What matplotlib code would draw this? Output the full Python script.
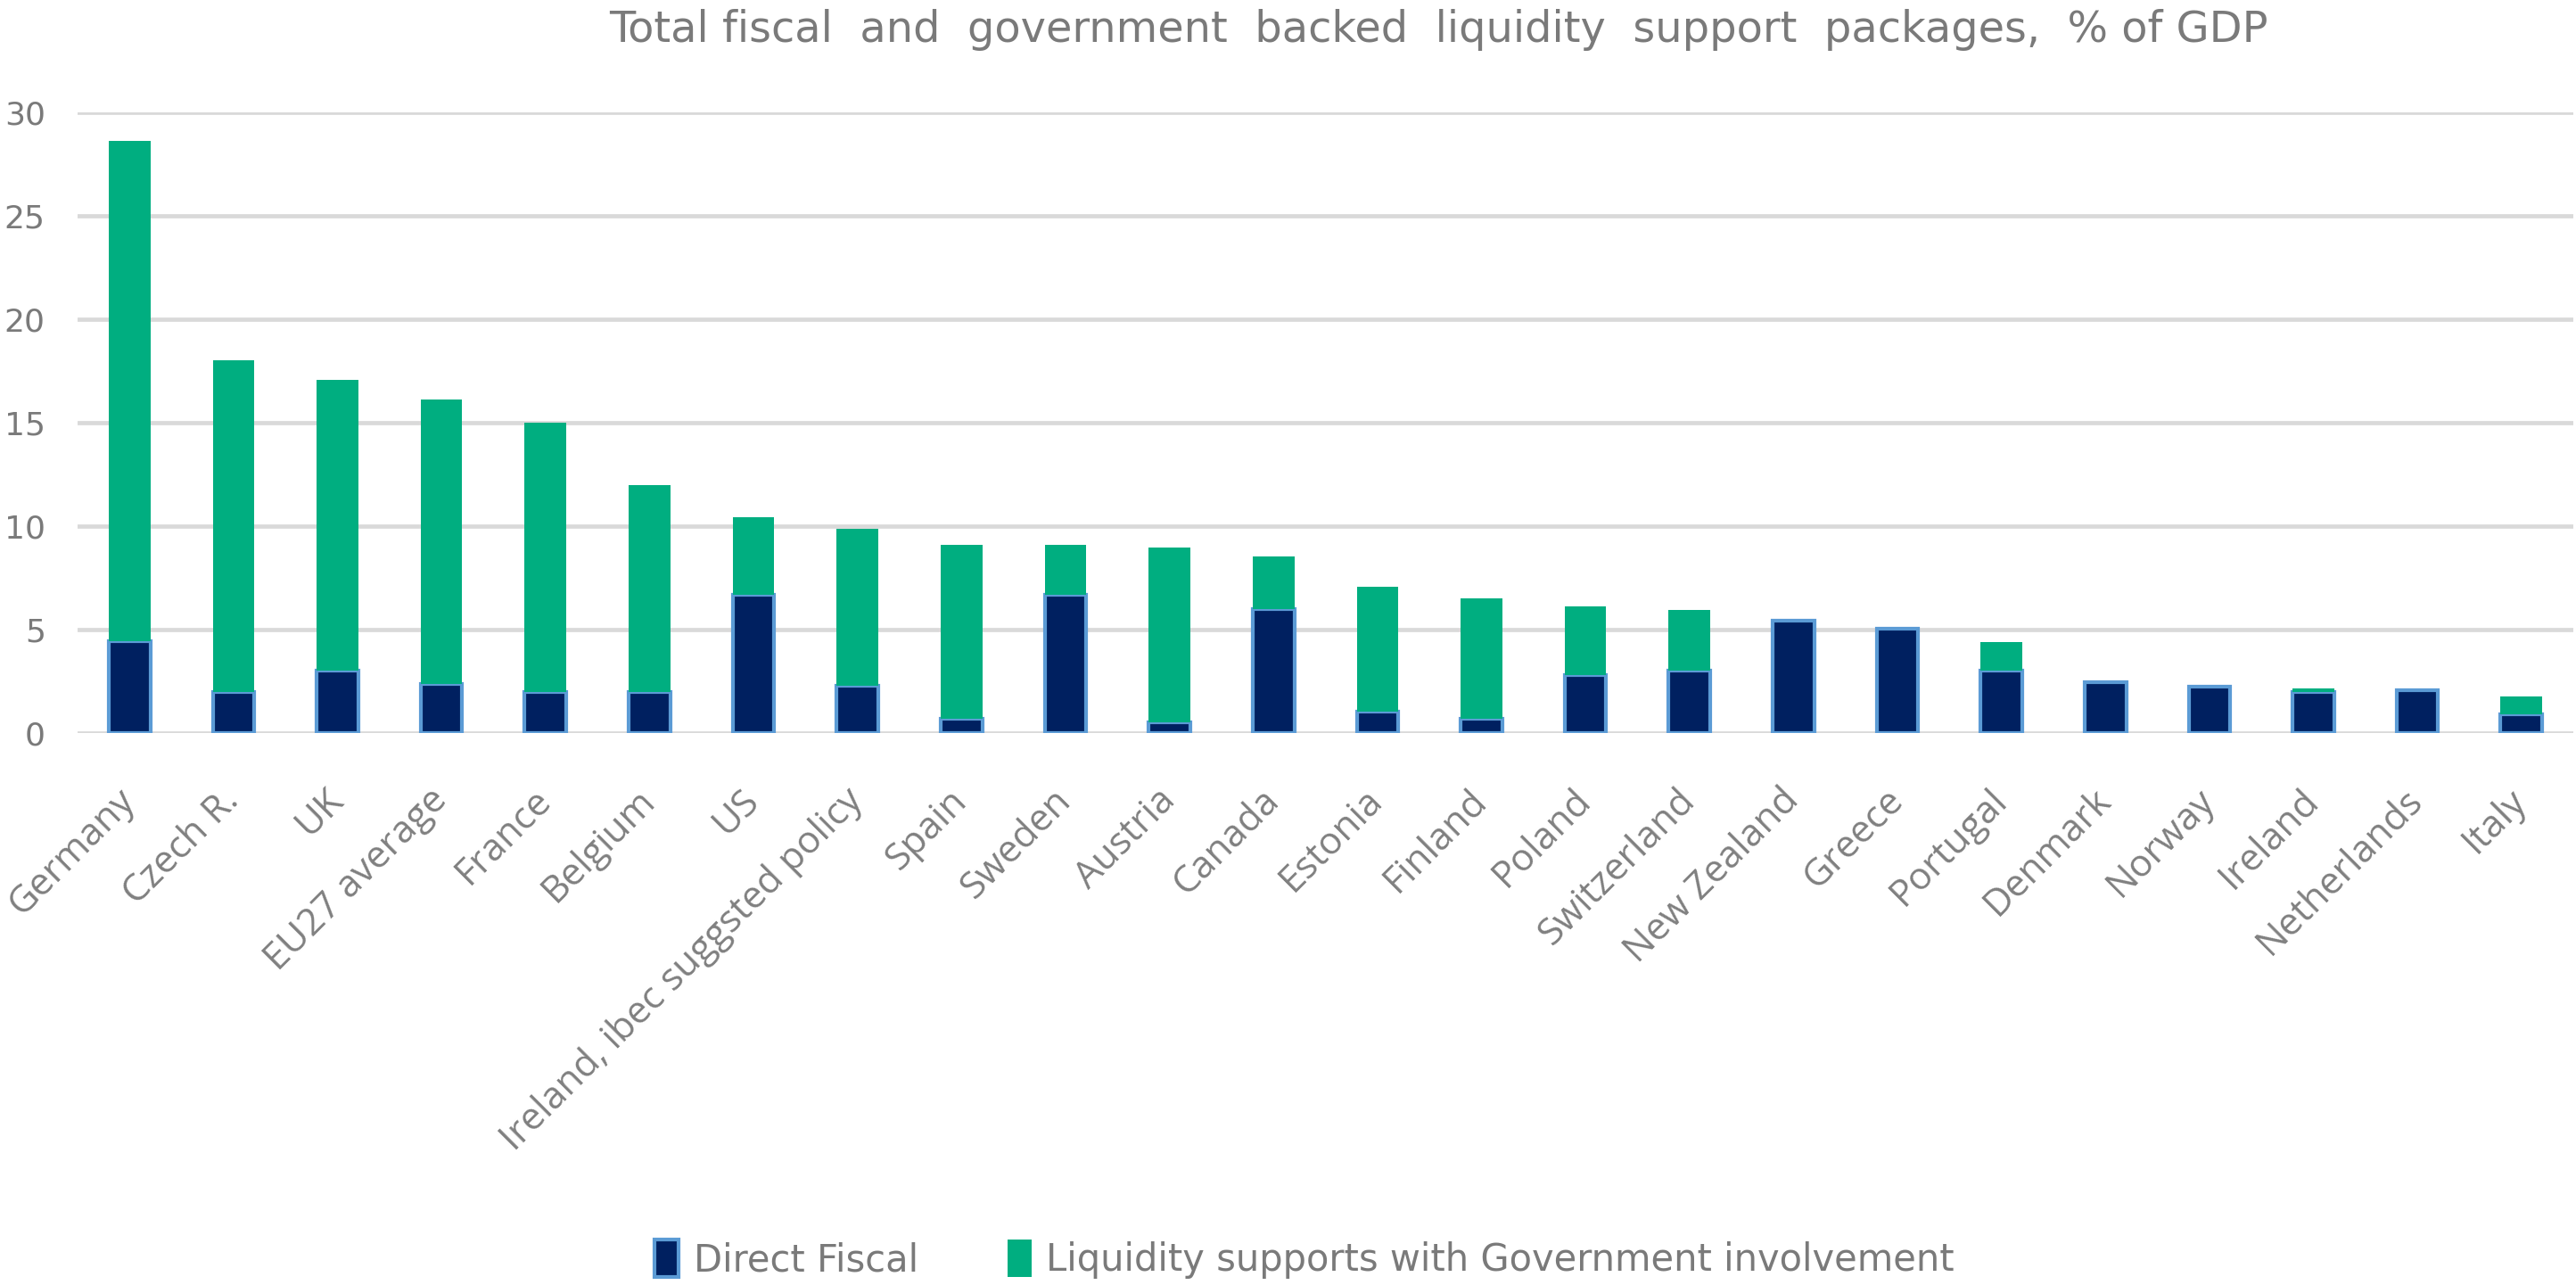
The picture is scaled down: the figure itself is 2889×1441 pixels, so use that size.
import matplotlib
matplotlib.use("Agg")
import matplotlib.pyplot as plt
import numpy as np

countries = ["Germany", "Czech R.", "UK", "EU27 average", "France", "Belgium", "US",
             "Ireland, ibec suggsted policy", "Spain", "Sweden", "Austria", "Canada",
             "Estonia", "Finland", "Poland", "Switzerland", "New Zealand", "Greece",
             "Portugal", "Denmark", "Norway", "Ireland", "Netherlands", "Italy"]
direct_fiscal = [4.45, 2.0, 3.0, 2.35, 2.0, 2.0, 6.7, 2.3, 0.7, 6.7, 0.5, 6.0,
                 1.05, 0.7, 2.8, 3.0, 5.45, 5.05, 3.0, 2.45, 2.25, 2.0, 2.05, 0.9]
liquidity = [24.15, 16.0, 14.05, 13.75, 13.0, 10.0, 3.75, 7.55, 8.4, 2.4, 8.45, 2.55,
             6.0, 5.8, 3.3, 2.95, 0.0, 0.0, 1.4, 0.0, 0.0, 0.15, 0.0, 0.85]
yticks = [0, 5, 10, 15, 20, 25, 30]

navy = "#002060"
edge = "#5B9BD5"
green = "#00AE80"
grey = "#7A7A7A"

fig = plt.figure(figsize=(28.89, 14.41), dpi=100)
ax = fig.add_axes([0.0301, 0.4296, 0.9689, 0.483])

x = np.arange(len(countries))
ax.bar(x, direct_fiscal, width=0.4, color=navy, edgecolor=edge, linewidth=3,
       zorder=3, label="Direct Fiscal")
ax.bar(x, liquidity, width=0.4, bottom=direct_fiscal, color=green, linewidth=0,
       zorder=4, label="Liquidity supports with Government involvement")

ax.set_xlim(-0.5, len(countries) - 0.5)
ax.set_ylim(0, 30)
ax.set_yticks(yticks)
ax.grid(axis="y", color="#D9D9D9", linewidth=3.4, zorder=0)
ax.set_axisbelow(True)
for s in ax.spines.values():
    s.set_visible(False)
ax.tick_params(axis="both", length=0)
ax.tick_params(axis="y", pad=26, labelsize=26, labelcolor=grey)

ax.set_xticks(x)
ax.set_xticklabels(countries, rotation=45, ha="right", va="center",
                   rotation_mode="anchor", fontsize=30.5, color="#808080",
                   family=["Open Sans", "DejaVu Sans"])
ax.tick_params(axis="x", pad=50)

fig.text(0.5583, 0.977, "Total fiscal  and  government  backed  liquidity  support  packages,  % of GDP",
         ha="center", va="center", fontsize=34.5, color=grey)

leg = fig.legend(loc="center", bbox_to_anchor=(0.5064, 0.02), ncol=2, frameon=False,
                 prop={"size": 30}, handlelength=0.65, handleheight=1.15,
                 columnspacing=2.4, handletextpad=0.4)
for t in leg.get_texts():
    t.set_color(grey)

fig.savefig("out.png", dpi=100)
